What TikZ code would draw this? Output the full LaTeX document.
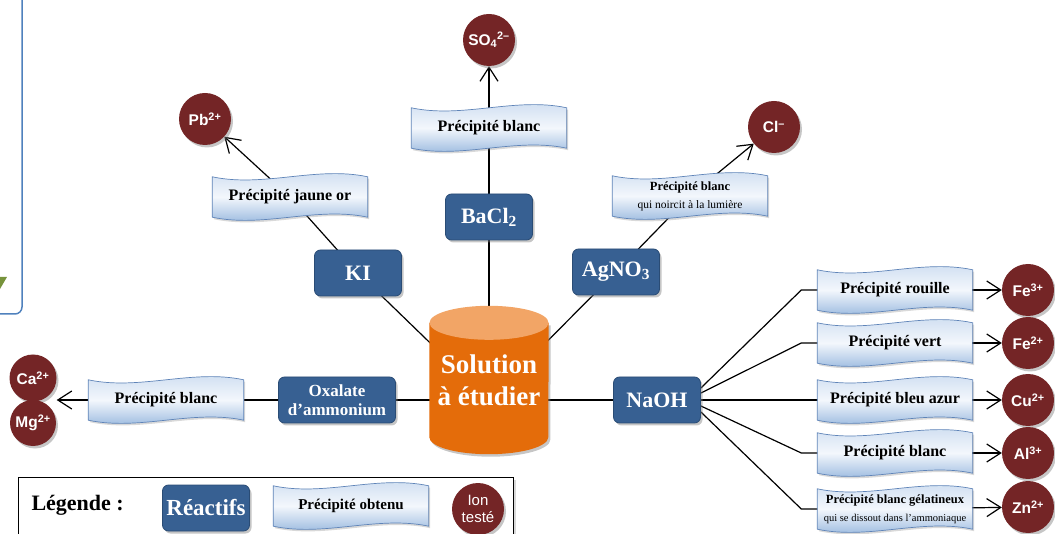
\documentclass[tikz,border=0pt]{standalone}
\usepackage{fontspec}
\setmainfont{Liberation Serif}
\newfontfamily\ionfont{Liberation Sans}
\usepackage{xcolor}
\definecolor{reagBlue}  {HTML}{376092}
\definecolor{reagEdge}  {HTML}{2A4C75}
\definecolor{waveTop}   {HTML}{C9DAEF}
\definecolor{waveMid}   {HTML}{F3F7FC}
\definecolor{waveLow}   {HTML}{8AAEDA}
\definecolor{waveEdge}  {HTML}{5F84B8}
\definecolor{ionRed}    {HTML}{742526}
\definecolor{solBody}   {HTML}{E46C0A}
\definecolor{solTop}    {HTML}{F2A566}
\definecolor{frameBlue} {HTML}{4F81BD}
\definecolor{arrowGreen}{HTML}{77933C}
\usetikzlibrary{arrows.meta, positioning, calc, shadows}
\pgfdeclarelayer{links}
\pgfdeclarelayer{waves}
\pgfsetlayers{links,waves,main}

\begin{document}
\begin{tikzpicture}[x=1pt, y=-1pt,
    every node/.style={font=\bfseries},
    dropsh/.style={drop shadow={shadow xshift=2pt, shadow yshift=-2.5pt, opacity=0.45}},
    reag/.style={draw=reagEdge, line width=0.8pt, fill=reagBlue, rounded corners=6pt,
                 text=white, minimum width=87pt, minimum height=46pt, inner sep=2pt,
                 font=\fontsize{22}{24}\selectfont\bfseries, dropsh},
    prec/.style={minimum width=155pt, minimum height=40pt, inner sep=1pt, align=center,
                 font=\fontsize{16}{18}\selectfont\bfseries},
    ion/.style={circle, fill=ionRed, text=white, minimum size=52pt, inner sep=0pt,
                font=\ionfont\fontsize{15.5}{17}\selectfont\bfseries, dropsh},
    wave/.style={draw=waveEdge, line width=0.7pt, top color=waveTop, bottom color=waveLow,
                 middle color=waveMid,
                 drop shadow={shadow xshift=1.5pt, shadow yshift=-2pt, opacity=0.3}},
    link/.style={line width=1.2pt},
    arr/.style={link, -{Straight Barb[length=14pt, width=18pt]}}
]
\useasboundingbox (0,0) rectangle (1055,534);

% Frame cut at the left edge
\draw[frameBlue, line width=1.5pt, rounded corners=7pt] (-30,-30) rectangle (22,314);
\fill[arrowGreen] (0,277) -- (7,277) -- (0,289) -- cycle;

% Solution
\node[font=\fontsize{27}{32}\selectfont\bfseries, text=white, minimum width=119pt,
      minimum height=148pt, align=center] (sol) at (489,380) {Solution\\à étudier};
\coordinate (solHub) at ([yshift=-20pt]sol.center);

% Reagents
\node[reag] (ki) at (358,273) {KI};
\node[reag] (ba) at (489,217) {BaCl\textsubscript{2}};
\node[reag] (ag) at (616,272) {AgNO\textsubscript{3}};
\node[reag, minimum width=117pt, align=center,
      font=\fontsize{17}{19}\selectfont\bfseries] (ox) at (337,400) {Oxalate\\d’ammonium};
\node[reag] (naoh) at (657,400) {NaOH};

% Precipitates
\node[prec] (pKI) at (290,197) {Précipité jaune or};
\node[prec] (pBa) at (489,128) {Précipité blanc};
\node[prec] (pAg) at (690,196) {{\fontsize{12.5}{14}\selectfont Précipité blanc}\\
    {\fontsize{11.5}{13}\selectfont\mdseries qui noircit à la lumière}};
\node[prec] (pOx) at (166,400) {Précipité blanc};

% Ions
\node[ion] (pb) at (205,119) {Pb\textsuperscript{2+}};
\node[ion] (so) at (489,40) {SO\textsubscript{4}\textsuperscript{2–}};
\node[ion] (cl) at (774,127) {Cl\textsuperscript{–}};
\node[ion, minimum size=47pt] (ca) at (33,378) {Ca\textsuperscript{2+}};
\node[ion, minimum size=46pt] (mg) at (33,423) {Mg\textsuperscript{2+}};

% NaOH branch
\foreach \i/\y/\txt/\lab in {1/290/{Précipité rouille}/{Fe\textsuperscript{3+}},
                             2/343/{Précipité vert}/{Fe\textsuperscript{2+}},
                             3/400/{Précipité bleu azur}/{Cu\textsuperscript{2+}},
                             4/453/{Précipité blanc}/{Al\textsuperscript{3+}}} {
    \node[prec] (p\i) at (895,\y) {\txt};
    \node[ion] (ion\i) at (1028,\y) {\lab};
}
\node[prec] (p5) at (895,509) {{\fontsize{12.5}{14}\selectfont Précipité blanc gélatineux}\\
    {\fontsize{10.5}{12}\selectfont\mdseries qui se dissout dans l’ammoniaque}};
\node[ion] (ion5) at (1028,507) {Zn\textsuperscript{2+}};

% Legend
\begin{pgfonlayer}{links}
\node[draw, fill=white, line width=1.2pt, minimum width=495pt, minimum height=80pt,
      anchor=north west, drop shadow={shadow xshift=2pt, shadow yshift=-2pt, opacity=0.3}]
      (legBox) at (18,477) {};
\end{pgfonlayer}
\node[font=\fontsize{22}{24}\selectfont\bfseries, anchor=west] (legTitle) at (28,505) {Légende :};
\node[reag, font=\fontsize{23}{25}\selectfont\bfseries] (legReag) at (206,508) {Réactifs};
\node[prec, font=\fontsize{15}{17}\selectfont\bfseries] (legPrec) at (351,506) {Précipité obtenu};
\node[ion, align=center, font=\ionfont\fontsize{15}{17}\selectfont] (legIon) at (478,509) {Ion\\testé};

% Connectors
\begin{pgfonlayer}{links}
\foreach \n in {ki, ba, ag, ox, naoh} {
    \draw[link] (solHub) -- (\n.center);
}
\draw[link] (ki.center) -- (pKI.center);
\draw[link] (ba.center) -- (pBa.center);
\draw[link] (ag.center) -- (pAg.center);
\draw[link] (ox.center) -- (pOx.center);
\draw[arr] (pKI.center) -- (pb);
\draw[arr] (pBa.center) -- (so);
\draw[arr] (pAg.center) -- (cl);
\draw[arr] (pOx.center) -- (pOx.west -| ca.east);
\foreach \i/\dy in {1/12, 2/7, 3/0, 4/-6, 5/-12} {
    \draw[link] ([yshift=\dy pt]naoh.east) -- ([xshift=-16pt]p\i.west) -- (p\i.center);
    \draw[arr] (p\i.center) -- (ion\i);
}
\end{pgfonlayer}

% Wavy banners and cylinder
\begin{pgfonlayer}{waves}
\foreach \n in {pKI, pBa, pAg, pOx, p1, p2, p3, p4, p5, legPrec} {
    \path[wave] (\n.north west)
        .. controls ($(\n.north west)!0.33!(\n.north east)+(0,11)$)
        and ($(\n.north west)!0.67!(\n.north east)+(0,-11)$) .. (\n.north east)
        -- (\n.south east)
        .. controls ($(\n.south west)!0.67!(\n.south east)+(0,-11)$)
        and ($(\n.south west)!0.33!(\n.south east)+(0,11)$) .. (\n.south west)
        -- cycle;
}
\path[fill=solBody, dropsh] ([yshift=-17pt]sol.north west) -- ([yshift=17pt]sol.south west)
    arc[start angle=180, end angle=360, x radius=59.5pt, y radius=17pt]
    -- ([yshift=-17pt]sol.north east) -- cycle;
\path[fill=solTop] ([yshift=-17pt]sol.north) ellipse [x radius=59.5pt, y radius=17pt];
\end{pgfonlayer}
\end{tikzpicture}
\end{document}
